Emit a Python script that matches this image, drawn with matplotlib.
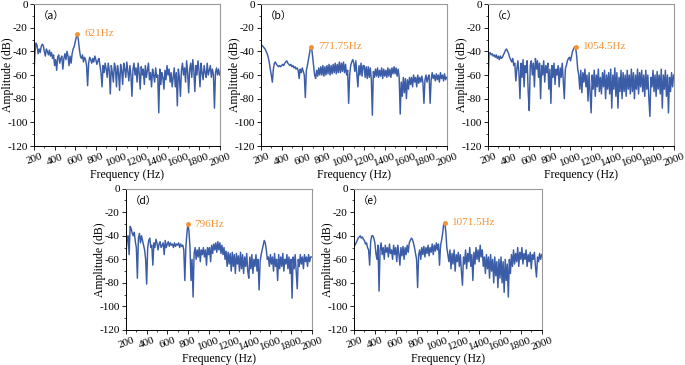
import numpy as np
import matplotlib
matplotlib.use("Agg")
import matplotlib.pyplot as plt
from matplotlib.ticker import MultipleLocator

plt.rcParams['font.family'] = ['Liberation Serif', 'Noto Sans CJK SC', 'DejaVu Sans']

# frequency grid (Hz) shared by all spectra
freq = np.arange(200, 2001, 10)

amp_a = [
-58,-40,-33,-35,-42,-38,-41,-36,-34,-35,
-40,-44,-38,-40,-43,-39,-44,-41,-46,-43,
-52,-47,-56,-45,-43,-50,-46,-44,-55,-46,
-42,-47,-40,-44,-52,-44,-50,-42,-38,-36,
-32,-28,-25,-30,-38,-44,-46,-43,-49,-45,
-47,-52,-69,-50,-45,-47,-50,-46,-49,-44,
-47,-51,-48,-46,-52,-58,-70,-52,-58,-50,
-55,-62,-50,-56,-76,-52,-58,-66,-50,-54,
-70,-52,-58,-73,-51,-56,-68,-50,-55,-62,
-49,-57,-65,-52,-60,-78,-55,-50,-60,-54,
-66,-50,-58,-72,-53,-60,-55,-68,-52,-62,
-56,-50,-64,-58,-70,-55,-60,-66,-54,-62,
-60,-92,-55,-68,-58,-62,-72,-56,-64,-52,
-60,-55,-66,-58,-70,-62,-54,-70,-58,-86,
-55,-62,-78,-56,-50,-60,-54,-66,-48,-58,
-75,-55,-50,-62,-47,-56,-74,-52,-60,-48,
-56,-70,-50,-58,-64,-52,-58,-62,-50,-60,
-56,-52,-62,-55,-60,-88,-58,-54,-60,-55,
-60]

amp_b = [
-35,-35,-36,-37,-38,-40,-42,-45,-49,-55,
-60,-66,-55,-50,-49,-51,-52,-53,-52,-53,
-52,-51,-52,-50,-49,-48,-50,-51,-52,-51,
-53,-52,-54,-53,-55,-54,-56,-63,-55,-58,
-54,-57,-60,-79,-56,-52,-47,-42,-37,-36,
-44,-52,-60,-63,-56,-61,-54,-60,-53,-60,
-52,-61,-53,-60,-52,-59,-51,-60,-52,-59,
-51,-58,-50,-59,-51,-58,-49,-58,-50,-57,
-49,-58,-51,-60,-56,-84,-60,-52,-49,-47,
-50,-57,-48,-60,-70,-52,-60,-50,-61,-52,
-52,-62,-53,-63,-53,-62,-54,-64,-94,-57,
-62,-55,-61,-54,-62,-56,-61,-54,-63,-55,
-61,-56,-62,-54,-61,-55,-62,-54,-59,-53,
-59,-54,-61,-55,-62,-93,-66,-78,-62,-75,
-63,-80,-64,-72,-62,-68,-62,-70,-60,-66,
-62,-70,-60,-67,-62,-66,-61,-66,-84,-64,
-60,-66,-62,-60,-84,-64,-58,-63,-60,-65,
-59,-64,-60,-66,-58,-63,-60,-65,-59,-64,
-62]

amp_c = [
-70,-42,-41,-43,-42,-44,-43,-45,-43,-46,
-44,-47,-44,-46,-45,-43,-41,-39,-38,-40,
-42,-45,-47,-49,-46,-52,-50,-65,-55,-48,
-58,-80,-50,-62,-47,-70,-52,-58,-48,-75,
-90,-52,-48,-60,-50,-70,-46,-55,-48,-62,
-50,-80,-52,-60,-48,-66,-52,-58,-50,-72,
-55,-84,-52,-62,-50,-68,-55,-60,-52,-70,
-54,-62,-50,-65,-80,-55,-52,-48,-46,-45,
-48,-44,-40,-38,-36,-37,-44,-55,-60,-72,
-56,-75,-58,-66,-55,-70,-60,-82,-58,-75,
-92,-60,-72,-56,-78,-60,-70,-55,-74,-62,
-76,-58,-70,-56,-80,-60,-72,-58,-76,-55,
-88,-60,-72,-54,-78,-58,-88,-62,-74,-56,
-80,-58,-74,-60,-78,-56,-72,-60,-76,-55,
-74,-58,-80,-60,-72,-55,-76,-58,-70,-56,
-74,-60,-78,-56,-72,-60,-80,-95,-62,-70,
-56,-74,-60,-78,-57,-72,-60,-76,-55,-88,
-60,-72,-56,-78,-60,-92,-62,-74,-58,-70,
-60]

amp_d = [
-55,-42,-40,-56,-32,-34,-38,-40,-37,-45,
-50,-76,-42,-38,-46,-40,-44,-48,-52,-60,
-81,-50,-44,-42,-50,-48,-65,-46,-50,-43,
-46,-52,-47,-45,-50,-48,-46,-56,-44,-50,
-47,-45,-49,-46,-48,-47,-50,-46,-49,-47,
-48,-46,-50,-47,-49,-48,-52,-78,-50,-38,
-30,-36,-50,-78,-60,-92,-55,-50,-60,-52,
-58,-50,-62,-52,-56,-50,-58,-52,-65,-50,
-56,-50,-62,-48,-55,-47,-52,-46,-54,-45,
-52,-46,-55,-48,-56,-50,-60,-53,-66,-54,
-64,-55,-70,-54,-66,-56,-72,-55,-64,-57,
-70,-54,-68,-56,-72,-58,-66,-55,-70,-76,
-58,-68,-56,-72,-60,-66,-56,-70,-60,-86,
-62,-56,-52,-48,-44,-46,-52,-60,-58,-66,
-56,-64,-58,-70,-55,-66,-60,-78,-56,-68,
-58,-66,-55,-70,-60,-64,-56,-68,-58,-72,
-60,-93,-58,-68,-56,-70,-85,-60,-66,-56,
-64,-58,-68,-56,-62,-58,-66,-56,-62,-58,
-58]

amp_e = [
-45,-48,-46,-44,-42,-41,-40,-42,-41,-43,
-44,-47,-46,-50,-52,-65,-45,-40,-40,-42,
-46,-55,-60,-48,-87,-52,-46,-56,-50,-60,
-48,-54,-50,-58,-47,-55,-52,-60,-48,-56,
-50,-62,-48,-55,-65,-50,-57,-49,-60,-50,
-56,-48,-54,-46,-44,-42,-43,-46,-50,-55,
-60,-84,-56,-52,-60,-50,-56,-49,-58,-50,
-55,-48,-57,-50,-54,-47,-56,-48,-53,-46,
-52,-47,-65,-48,-44,-38,-30,-29,-36,-50,
-56,-62,-52,-68,-55,-64,-52,-70,-56,-62,
-54,-66,-56,-70,-82,-58,-64,-52,-68,-55,
-62,-50,-66,-56,-78,-54,-64,-50,-60,-52,
-62,-48,-58,-52,-66,-58,-72,-56,-68,-58,
-76,-56,-70,-60,-80,-58,-74,-62,-84,-60,
-76,-58,-80,-62,-88,-60,-78,-64,-92,-60,
-72,-56,-66,-52,-64,-55,-62,-50,-66,-54,
-60,-50,-64,-55,-60,-52,-66,-56,-62,-54,
-68,-56,-60,-54,-66,-75,-58,-62,-55,-60,
-56]

panel_tags = ['（a）', '（b）', '（c）', '（d）', '（e）']
peak_labels = ['621Hz', '771.75Hz', '1054.5Hz', '796Hz', '1071.5Hz']
peak_freqs = [621, 686, 1054.5, 796, 1071.5]
peak_amps = [-25, -36, -36, -30, -29]
spectra = [amp_a, amp_b, amp_c, amp_d, amp_e]
xticks = [200, 400, 600, 800, 1000, 1200, 1400, 1600, 1800, 2000]
yticks = [0, -20, -40, -60, -80, -100, -120]

LINE = '#3B5CA6'
ORANGE = '#F39233'

fig = plt.figure(figsize=(6.85, 3.65), dpi=100)
W = 0.271
rects = [
    (0.0496, 0.600, W, 0.389),
    (0.381, 0.600, W, 0.389),
    (0.7124, 0.600, W, 0.389),
    (0.184, 0.096, W, 0.387),
    (0.5168, 0.096, W + 0.003, 0.387),
]

for i, r in enumerate(rects):
    ax = fig.add_axes(r)
    ax.plot(freq, spectra[i], color=LINE, lw=1.05)
    ax.plot([peak_freqs[i]], [peak_amps[i]], 'o', color=ORANGE, ms=2.5, zorder=5)
    ax.annotate(peak_labels[i], (peak_freqs[i], peak_amps[i]), xytext=(5, 0),
                textcoords='offset points', color=ORANGE, fontsize=8, va='center', ha='left')
    ax.text(0.02, 0.95, panel_tags[i], transform=ax.transAxes, fontsize=7.5,
            va='top', ha='left', family=['Noto Sans CJK SC', 'Liberation Serif'])
    ax.set_xlim(200, 2000)
    ax.set_ylim(-120, 0)
    ax.set_xticks(xticks)
    ax.set_yticks(yticks)
    ax.xaxis.set_minor_locator(MultipleLocator(100))
    ax.yaxis.set_minor_locator(MultipleLocator(10))
    ax.set_xticklabels([str(t) for t in xticks], rotation=20, fontsize=8)
    ax.set_yticklabels([str(t) for t in yticks], fontsize=8)
    ax.tick_params(which='major', length=3, width=0.6, pad=1.5)
    ax.tick_params(which='minor', length=1.5, width=0.5)
    for s in ['top', 'right']:
        ax.spines[s].set_color('#999999')
        ax.spines[s].set_linewidth(0.8)
    for s in ['left', 'bottom']:
        ax.spines[s].set_linewidth(0.7)
    ax.set_xlabel('Frequency (Hz)', fontsize=8.5, labelpad=0.5)
    ax.set_ylabel('Amplitude (dB)', fontsize=8.5, va='center')
    ax.yaxis.set_label_coords(-0.138, 0.5)

fig.savefig('out.png', dpi=100)
